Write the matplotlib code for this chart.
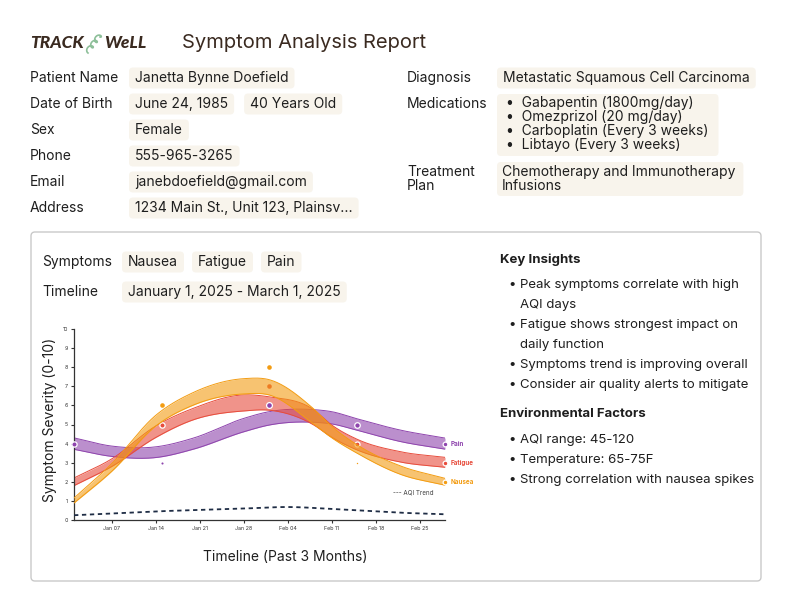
import numpy as np
import pandas as pd
import matplotlib
matplotlib.use("Agg")
import matplotlib.pyplot as plt
import matplotlib.dates as mdates
from matplotlib.patches import FancyBboxPatch

plt.rcParams['font.family'] = ['Inter', 'DejaVu Sans']

# ---------------- data ----------------
title = "Symptom Analysis Report"
info_labels = ["Patient Name", "Date of Birth", "Sex", "Phone", "Email", "Address"]
info_values = [["Janetta Bynne Doefield"], ["June 24, 1985", "40 Years Old"], ["Female"],
               ["555-965-3265"], ["janebdoefield@gmail.com"], ["1234 Main St., Unit 123, Plainsv..."]]
diagnosis = "Metastatic Squamous Cell Carcinoma"
medications = ["Gabapentin (1800mg/day)", "Omezprizol (20 mg/day)",
               "Carboplatin (Every 3 weeks)", "Libtayo (Every 3 weeks)"]
treatment = ["Chemotherapy and Immunotherapy", "Infusions"]
symptoms = ["Nausea", "Fatigue", "Pain"]
timeline_text = "January 1, 2025 - March 1, 2025"
key_insights = [["Peak symptoms correlate with high", "AQI days"],
                ["Fatigue shows strongest impact on", "daily function"],
                ["Symptoms trend is improving overall"],
                ["Consider air quality alerts to mitigate"]]
env_factors = ["AQI range: 45-120", "Temperature: 65-75F", "Strong correlation with nausea spikes"]

# observed symptom scores
obs_dates = pd.to_datetime(["2025-01-01", "2025-01-15", "2025-02-01", "2025-02-15", "2025-03-01"])
nausea_obs = [1, 6, 8, 3, 2]
fatigue_obs = [2, 5, 7, 4, 3]
pain_obs = [4, 3, 6, 5, 4]

# trend bands (centre and half-width)
band_dates = pd.to_datetime(["2025-01-01", "2025-01-07", "2025-01-14", "2025-01-20", "2025-01-28",
                             "2025-02-01", "2025-02-08", "2025-02-11", "2025-02-15", "2025-02-22",
                             "2025-03-01"])
nausea_mid = [1.02, 2.75, 5.2, 6.35, 7.0, 6.95, 5.45, 4.6, 3.72, 2.6, 2.0]
nausea_hw = [0.13, 0.2, 0.28, 0.33, 0.4, 0.4, 0.4, 0.3, 0.22, 0.22, 0.18]
fatigue_mid = [2.0, 3.0, 4.62, 5.55, 6.13, 6.1, 5.4, 4.65, 3.95, 3.3, 3.02]
fatigue_hw = [0.2, 0.2, 0.3, 0.3, 0.42, 0.35, 0.4, 0.32, 0.28, 0.27, 0.26]
pain_mid = [4.0, 3.6, 3.55, 4.0, 4.97, 5.32, 5.45, 5.35, 5.0, 4.4, 4.0]
pain_hw = [0.3, 0.27, 0.28, 0.29, 0.35, 0.35, 0.33, 0.32, 0.3, 0.3, 0.29]

aqi_dates = pd.to_datetime(["2025-01-01", "2025-01-14", "2025-01-28", "2025-02-04", "2025-02-11",
                            "2025-02-22", "2025-03-01"])
aqi_trend = [0.25, 0.45, 0.6, 0.68, 0.58, 0.38, 0.3]

# ---------------- helpers ----------------
fig = plt.figure(figsize=(7.92, 6.12), dpi=100)
ov = fig.add_axes([0, 0, 1, 1], zorder=0)
ov.set_xlim(0, 792)
ov.set_ylim(612, 0)
ov.axis('off')

PILL = '#f8f4ec'
TXT = '#1e1e1e'


def T(x, y, s, size=10, weight='normal', color=TXT, ha='left', va='center', **kw):
    return ov.text(x, y, s, fontsize=size, fontweight=weight, color=color, ha=ha, va=va, **kw)


def pill(x0, x1, y0, y1, fc=PILL):
    ov.add_patch(FancyBboxPatch((x0, y0), x1 - x0, y1 - y0,
                                boxstyle="round,pad=0,rounding_size=4", fc=fc, ec='none', zorder=0.5))


renderer = fig.canvas.get_renderer()


def text_width(t):
    return t.get_window_extent(renderer=renderer).width


def value_pill(x, y, s, size=10):
    t = T(x + 6, y, s, size=size, zorder=2)
    w = text_width(t)
    pill(x, x + w + 12, y - 10.5, y + 10.5)
    return x + w + 12


# ---------------- header ----------------
T(30, 43, "TRACK", size=12.5, weight='black', color='#3a2a20', style='italic',
  family=['Lato', 'DejaVu Sans'])
T(104, 43, "WeLL", size=12.5, weight='black', color='#3a2a20', style='italic',
  family=['Lato', 'DejaVu Sans'])
tt = np.linspace(0, 3 * 2 * np.pi, 200)
sx = 88 + tt / (6 * np.pi) * 12 - 2.2 * np.sin(tt)
sy = 53 - tt / (6 * np.pi) * 16 + 2.2 * np.cos(tt) - 2.2
ov.plot(sx, sy, color='#8dbf99', lw=1.2)
T(182, 43, title, size=14.5, color='#3a2a20')

rows_y = [78, 104, 130, 156, 182, 208]
for lab, vals, y in zip(info_labels, info_values, rows_y):
    T(30, y, lab, size=10)
    x = 129
    for v in vals:
        x = value_pill(x, y, v) + 10

T(407, 78, "Diagnosis", size=10)
value_pill(497, 78, diagnosis)
T(407, 104, "Medications", size=10)
med_w = 0
for i, m in enumerate(medications):
    t = T(506, 103 + 14 * i, "\u2022  " + m, size=10, zorder=2)
    med_w = max(med_w, text_width(t))
pill(497, 506 + med_w + 10, 94, 156)
T(407, 172, "Treatment", size=10)
T(407, 186, "Plan", size=10)
tw = 0
for i, s in enumerate(treatment):
    t = T(502, 172 + 14 * i, s, size=10, zorder=2)
    tw = max(tw, text_width(t))
pill(497, 502 + tw + 8, 162, 196)

# ---------------- panel box ----------------
ov.add_patch(FancyBboxPatch((31, 232), 730, 349, boxstyle="round,pad=0,rounding_size=4",
                            fc='white', ec='#c9c9c9', lw=1, zorder=0.2))
T(42, 262, "Symptoms", size=10)
x = 122
for s in symptoms:
    x = value_pill(x, 262, s) + 8
T(42, 292, "Timeline", size=10)
value_pill(122, 292, timeline_text)

# insights
T(500, 260, "Key Insights", size=9.5, weight='bold')
yy = 285
for item in key_insights:
    T(508, yy, "\u2022", size=9.5)
    for ln in item:
        T(520, yy, ln, size=9.5)
        yy += 20
T(500, 414, "Environmental Factors", size=9.5, weight='bold')
yy = 440
for s in env_factors:
    T(508, yy, "\u2022", size=9.5)
    T(520, yy, s, size=9.5)
    yy += 20

# ---------------- chart ----------------
L, R, TOP, BOT = 74, 445, 329, 520
ax = fig.add_axes([L / 792, (612 - BOT) / 612, (R - L) / 792, (BOT - TOP) / 612], zorder=2)
ax.set_facecolor('none')


def smooth(xd, yd, n=300):
    xd = np.asarray(xd, float)
    yd = np.asarray(yd, float)
    m = np.gradient(yd, xd)
    xs = np.linspace(xd[0], xd[-1], n)
    idx = np.clip(np.searchsorted(xd, xs, side='right') - 1, 0, len(xd) - 2)
    h = xd[idx + 1] - xd[idx]
    t = (xs - xd[idx]) / h
    h00 = 2 * t**3 - 3 * t**2 + 1
    h10 = t**3 - 2 * t**2 + t
    h01 = -2 * t**3 + 3 * t**2
    h11 = t**3 - t**2
    ys = h00 * yd[idx] + h10 * h * m[idx] + h01 * yd[idx + 1] + h11 * h * m[idx + 1]
    return xs, ys


bx = mdates.date2num(band_dates)
colors = {'Nausea': '#f39c12', 'Fatigue': '#e74c3c', 'Pain': '#8e44ad'}


def band(mid, hw, col, z):
    xs, lo = smooth(bx, np.array(mid) - np.array(hw))
    _, hi = smooth(bx, np.array(mid) + np.array(hw))
    ax.fill_between(xs, lo, hi, color=col, alpha=0.6, lw=0, zorder=z)
    ax.plot(xs, lo, color=col, lw=0.7, zorder=z)
    ax.plot(xs, hi, color=col, lw=0.7, zorder=z)


ox = mdates.date2num(obs_dates)


def points(vals, col, sizes, rings, z):
    for xi, yi, ms, rg in zip(ox, vals, sizes, rings):
        if ms:
            ax.plot(xi, yi, 'o', ms=ms, color=col, mec='white' if rg else col,
                    mew=0.9 if rg else 0, zorder=z, clip_on=False)


band(pain_mid, pain_hw, colors['Pain'], 1)
band(fatigue_mid, fatigue_hw, colors['Fatigue'], 2)
points(fatigue_obs, colors['Fatigue'], [0, 3.8, 3.3, 3.6, 3.4], [0, 1, 0, 1, 1], 2.5)
band(nausea_mid, nausea_hw, colors['Nausea'], 3)
points(nausea_obs, colors['Nausea'], [0, 3.3, 3.3, 1.0, 3.4], [0, 0, 0, 0, 1], 4)
points(pain_obs, colors['Pain'], [3.8, 1.5, 4.2, 4.0, 3.4], [1, 0, 1, 1, 1], 5)

axs, ays = smooth(mdates.date2num(aqi_dates), aqi_trend)
ax.plot(axs, ays, color='#1f2d45', lw=1.3, ls=(0, (2.4, 2.0)), zorder=3)

for name, obs in zip(['Pain', 'Fatigue', 'Nausea'], [pain_obs, fatigue_obs, nausea_obs]):
    ax.annotate(name, (ox[-1], obs[-1]), xytext=(4, 0), textcoords='offset points',
                fontsize=4.5, fontweight='bold', color=colors[name], va='center', ha='left',
                annotation_clip=False)
ax.text(mdates.date2num(pd.Timestamp("2025-02-24")), 1.45, "--- AQI Trend", fontsize=4.5,
        color='#444444', ha='center', va='center')

ax.set_xlim(mdates.date2num(pd.Timestamp("2025-01-01")), mdates.date2num(pd.Timestamp("2025-03-01")))
ax.set_ylim(0, 10)
ax.set_yticks(range(0, 11))
ticks = pd.to_datetime(["2025-01-07", "2025-01-14", "2025-01-21", "2025-01-28", "2025-02-04",
                        "2025-02-11", "2025-02-18", "2025-02-25"])
ax.set_xticks(mdates.date2num(ticks))
ax.set_xticklabels([d.strftime("%b %d") for d in ticks])
ax.tick_params(labelsize=3.8, length=2.5, width=0.8, color='#333333', labelcolor='#333333', pad=2)
for sp in ['top', 'right']:
    ax.spines[sp].set_visible(False)
for sp in ['left', 'bottom']:
    ax.spines[sp].set_color('#333333')
    ax.spines[sp].set_linewidth(0.9)

T(50.5, 420, "Symptom Severity (0-10)", size=10, rotation=90, ha='center', va='center')
T(285, 557, "Timeline (Past 3 Months)", size=10, ha='center')

fig.savefig("out.png", dpi=100, facecolor='white')
